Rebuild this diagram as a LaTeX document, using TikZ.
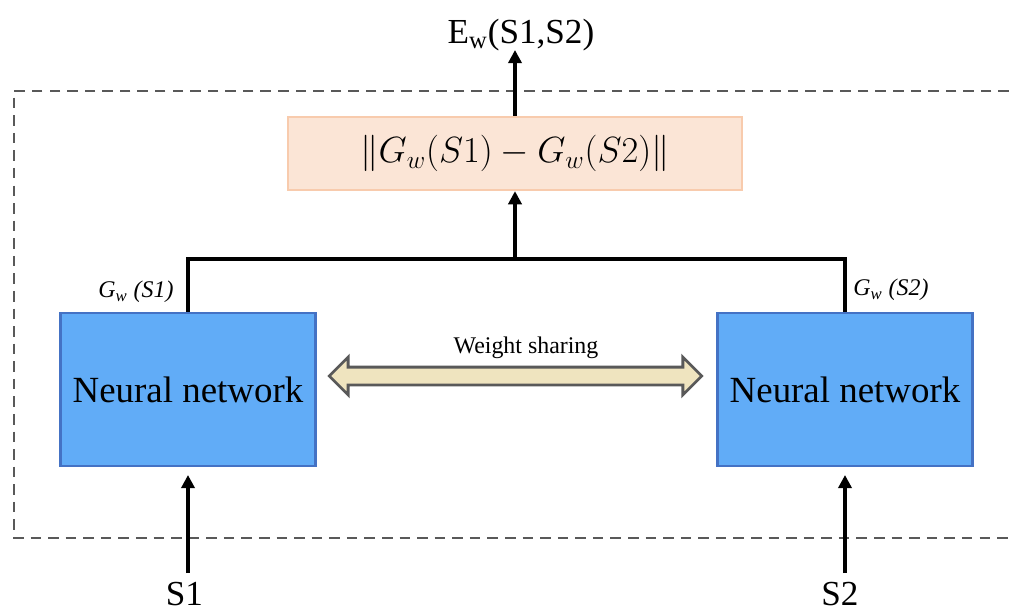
\documentclass[tikz,border=0pt]{standalone}
\usepackage{fontspec}
\setmainfont{Liberation Serif}
\usetikzlibrary{arrows.meta,shapes.arrows}
\pgfdeclarelayer{edgelayer}
\pgfdeclarelayer{nodelayer}
\pgfsetlayers{edgelayer,nodelayer,main}
\definecolor{netblue}{RGB}{97,172,247}
\definecolor{netedge}{RGB}{68,114,196}
\definecolor{normfill}{RGB}{251,229,214}
\definecolor{normedge}{RGB}{248,203,173}
\definecolor{sharefill}{RGB}{239,228,191}
\definecolor{framegray}{RGB}{89,89,89}
\tikzstyle{none}=[inner sep=0pt]
\tikzstyle{netbox}=[draw=netedge,fill=netblue,line width=1.3pt,minimum width=5.1cm,minimum height=3.06cm,font=\fontsize{21}{25}\selectfont]
\tikzstyle{normbox}=[draw=normedge,fill=normfill,line width=1.3pt,minimum width=9.08cm,minimum height=1.46cm,font=\fontsize{20.74}{24}\selectfont]
\tikzstyle{sharearrow}=[double arrow,draw=framegray,fill=sharefill,line width=1.6pt,inner sep=0.15cm,minimum height=7.45cm,double arrow head extend=0.2cm]
\tikzstyle{tag}=[inner sep=0pt,font=\fontsize{13.6}{16}\selectfont]
\tikzstyle{bigtag}=[inner sep=0pt,font=\fontsize{20}{24}\selectfont]
\tikzstyle{flow}=[line width=2pt,-{Triangle[length=7.5pt,width=7.5pt]}]
\tikzstyle{frame}=[draw=framegray,line width=1.5pt,dash pattern=on 6pt off 4pt]

\begin{document}
\begin{tikzpicture}
	\useasboundingbox (-10.09,-6.12) rectangle (10.09,6.12);
	\begin{pgfonlayer}{nodelayer}
		\node [style=normbox] (0) at (0.21, 3.05) {$\|G_w(S1)-G_w(S2)\|$};
		\node [style=netbox] (1) at (-6.33, -1.67) {Neural network};
		\node [style=netbox] (2) at (6.81, -1.67) {Neural network};
		\node [style=sharearrow] (3) at (0.22, -1.4) {};
		\node [style=tag] (4) at (0.43, -0.84) {Weight sharing};
		\node [style=tag] (5) at (-7.37, 0.28) {\textit{G}\textsubscript{\textit{w}} \textit{(S1)}};
		\node [style=tag] (6) at (7.73, 0.32) {\textit{G}\textsubscript{\textit{w}} \textit{(S2)}};
		\node [style=bigtag] (7) at (0.33, 5.42) {E\textsubscript{w}(S1,S2)};
		\node [style=bigtag] (8) at (-6.4, -5.77) {S1};
		\node [style=bigtag] (9) at (6.71, -5.77) {S2};
		\node [style=none] (10) at (0.21, 5.12) {};
		\node [style=none] (11) at (-6.33, 0.94) {};
		\node [style=none] (12) at (6.81, 0.94) {};
		\node [style=none] (13) at (0.21, 0.94) {};
		\node [style=none] (14) at (-6.33, -5.34) {};
		\node [style=none] (15) at (-6.33, -3.38) {};
		\node [style=none] (16) at (6.81, -5.34) {};
		\node [style=none] (17) at (6.81, -3.38) {};
		\node [style=none] (18) at (10.09, 4.3) {};
		\node [style=none] (19) at (-9.81, 4.3) {};
		\node [style=none] (20) at (-9.81, -4.64) {};
		\node [style=none] (21) at (10.09, -4.64) {};
	\end{pgfonlayer}
	\begin{pgfonlayer}{edgelayer}
		\draw [style=frame] (18.center) to (19.center) to (20.center) to (21.center);
		\draw [line width=2pt] (1) to (11.center) to (12.center) to (2);
		\draw [style=flow] (13.center) to (0);
		\draw [style=flow] (0) to (10.center);
		\draw [style=flow] (14.center) to (15.center);
		\draw [style=flow] (16.center) to (17.center);
	\end{pgfonlayer}
\end{tikzpicture}
\end{document}
